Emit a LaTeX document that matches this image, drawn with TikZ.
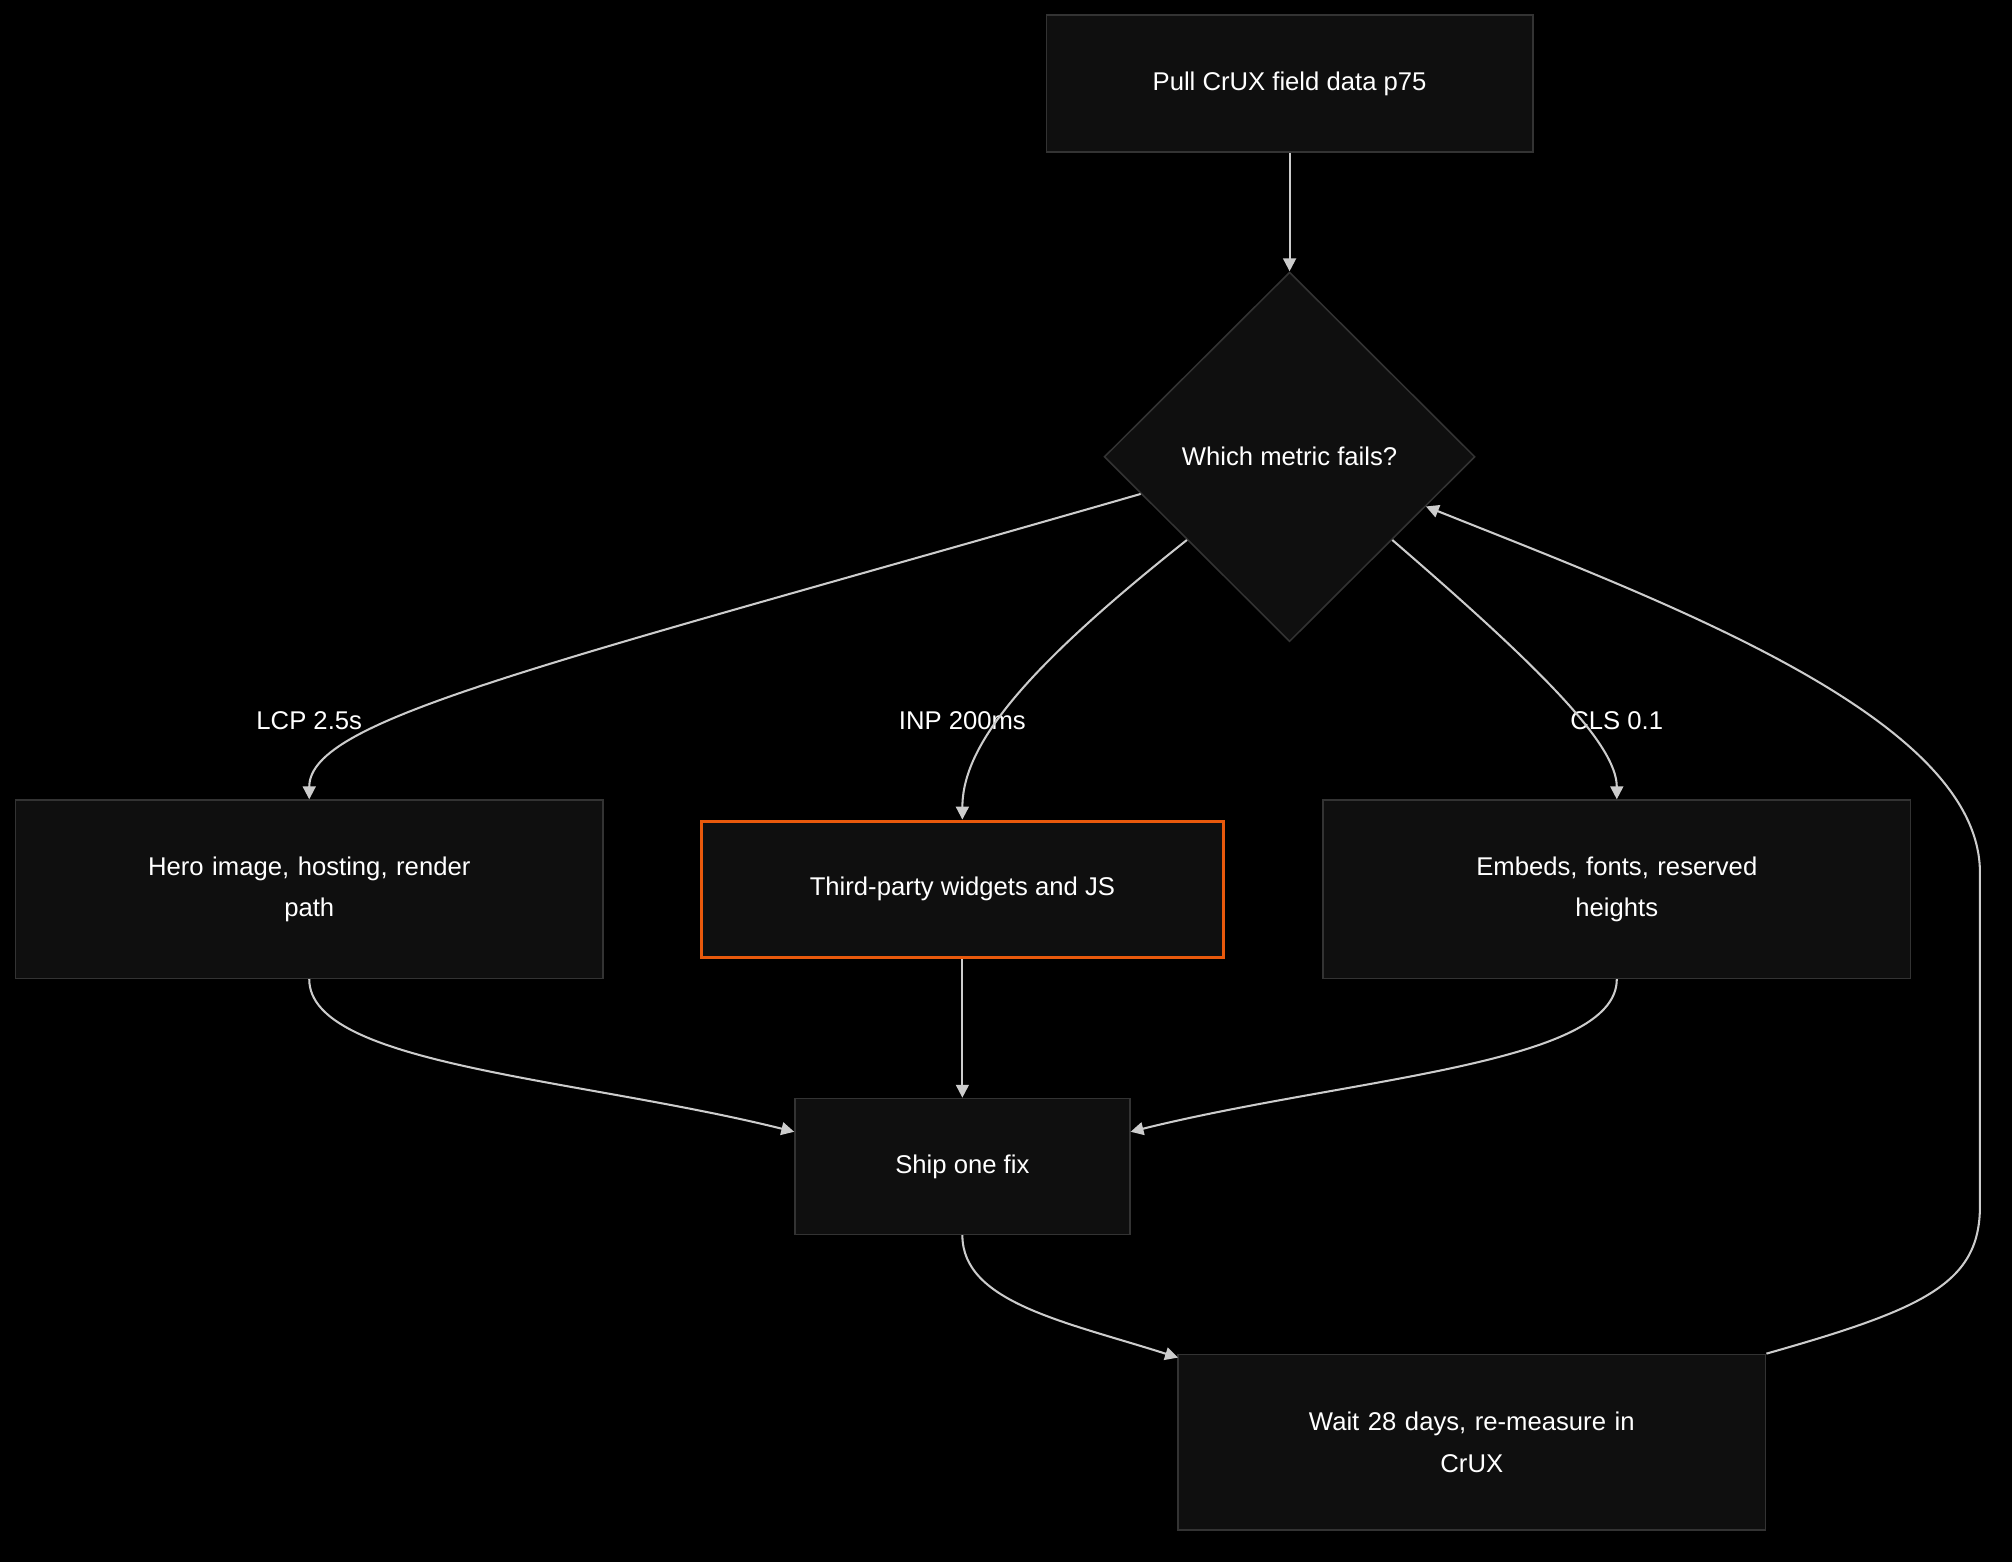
\documentclass[tikz,border=0pt]{standalone}
\usepackage{fontspec}
\setmainfont{Liberation Sans}
\usetikzlibrary{shapes.geometric,arrows.meta}
\definecolor{nodefill}{HTML}{0F0F0F}
\definecolor{nodeline}{HTML}{333333}
\definecolor{edge}{HTML}{CCCCCC}
\definecolor{accent}{HTML}{E8590C}
\begin{document}
\begin{tikzpicture}[x=0.5pt,y=-0.5pt,
  box/.style={draw=nodeline,fill=nodefill,line width=0.6pt,text=white,font=\fontsize{10}{16}\selectfont,align=center,inner sep=0pt},
  dia/.style={diamond,draw=nodeline,fill=nodefill,line width=0.6pt,text=white,font=\fontsize{10}{16}\selectfont,minimum width=144.5pt,minimum height=144pt,inner sep=0pt},
  lbl/.style={text=white,font=\fontsize{10}{12}\selectfont},
  conn/.style={draw=edge,line width=0.8pt,-{Triangle[length=5pt,width=5pt]}}]
\fill[black] (0,0) rectangle (1568,1217);
\useasboundingbox (0,0) rectangle (1568,1217);
\node[box,minimum width=189.5pt,minimum height=53.5pt] (pull) at (1005,65) {Pull CrUX field data p75};
\node[dia] (d) at (1005,356) {Which metric fails?};
\node[box,minimum width=229pt,minimum height=69.5pt,text width=150pt] (hero) at (241,693) {Hero image, hosting, render\\path};
\node[box,draw=accent,line width=1.3pt,minimum width=203.5pt,minimum height=53pt] (third) at (750,693) {Third-party widgets and JS};
\node[box,minimum width=229pt,minimum height=69.5pt,text width=150pt] (emb) at (1260,693) {Embeds, fonts, reserved\\heights};
\node[box,minimum width=130.5pt,minimum height=53pt] (ship) at (750,909) {Ship one fix};
\node[box,minimum width=229pt,minimum height=68.5pt,text width=150pt] (wait) at (1147,1124) {Wait 28 days, re-measure in\\CrUX};
\node[lbl] (l1) at (241,562) {LCP 2.5s};
\node[lbl] (l2) at (750,562) {INP 200ms};
\node[lbl] (l3) at (1260,562) {CLS 0.1};
\draw[conn] (pull.south) -- (d.north);
\draw[conn] (d.194) .. controls (420,520) and (241,560) .. (hero.north);
\draw[conn] (d.219) .. controls (800,520) and (750,580) .. (third.north);
\draw[conn] (d.321) .. controls (1200,520) and (1260,580) .. (emb.north);
\draw[conn] (hero.south) .. controls (241,830) and (450,840) .. (ship.west |- 0,882);
\draw[conn] (third.south) -- (ship.north);
\draw[conn] (emb.south) .. controls (1260,830) and (1050,840) .. (ship.east |- 0,882);
\draw[conn] (ship.south) .. controls (750,1015) and (830,1030) .. (918,1058);
\draw[conn] (wait.north east) .. controls (1500,1020) and (1543,1000) .. (1543,940) -- (1543,680) .. controls (1543,560) and (1300,470) .. (d.-20);
\end{tikzpicture}
\end{document}
